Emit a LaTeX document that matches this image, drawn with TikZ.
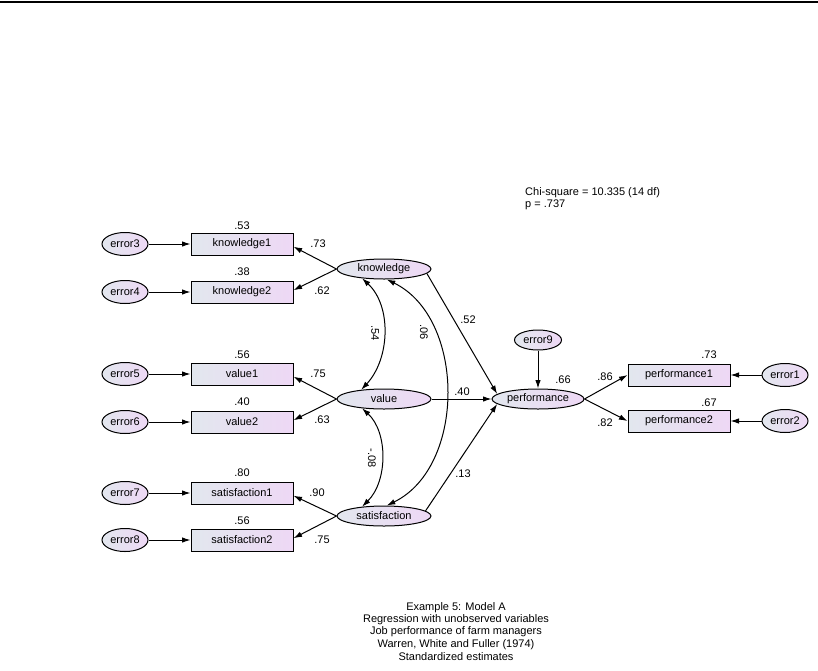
\documentclass[tikz,border=0pt]{standalone}
\usepackage{fontspec}
\setmainfont{Liberation Sans}
\usetikzlibrary{arrows.meta,shapes.geometric}
\definecolor{gl}{RGB}{226,231,238}
\definecolor{gr}{RGB}{238,216,245}
\begin{document}
\begin{tikzpicture}[x=1pt,y=-1pt,
  font=\fontsize{11}{13}\selectfont,
  obs/.style={draw, line width=1pt, left color=gl, right color=gr, minimum width=102pt, minimum height=22pt, inner sep=0pt},
  lat/.style={draw, ellipse, line width=1pt, left color=gl, right color=gr, minimum width=94pt, minimum height=20pt, inner sep=0pt},
  err/.style={draw, ellipse, line width=1pt, left color=gl, right color=gr, minimum width=46pt, minimum height=23pt, inner sep=0pt},
  arr/.style={line width=1pt, -{Latex[length=8.5pt,width=5.5pt]}},
  dbl/.style={line width=1pt, {Latex[length=8.5pt,width=5.5pt]}-{Latex[length=8.5pt,width=5.5pt]}},
  lbl/.style={inner sep=0pt},
  rlbl/.style={inner sep=0pt, rotate=-90}]
\useasboundingbox (0,0) rectangle (818,670);
\draw[line width=1.5pt] (0,2) -- (818,2);

% error terms (left)
\node[err] (e3) at (125,244) {error3};
\node[err] (e4) at (125,292) {error4};
\node[err] (e5) at (125,374) {error5};
\node[err] (e6) at (125,422) {error6};
\node[err] (e7) at (125,493) {error7};
\node[err] (e8) at (125,540) {error8};
% observed (left)
\node[obs] (k1) at (242,244) {knowledge1};
\node[obs] (k2) at (242,292) {knowledge2};
\node[obs] (v1) at (242,374) {value1};
\node[obs] (v2) at (242,422) {value2};
\node[obs] (s1) at (242,493) {satisfaction1};
\node[obs] (s2) at (242,540) {satisfaction2};
% latent
\node[lat] (kn) at (384,269) {knowledge};
\node[lat] (va) at (384,399) {value};
\node[lat] (sa) at (384,516) {satisfaction};
\node[lat, minimum width=92pt] (pf) at (538,399) {performance};
\node[err, minimum width=47pt, minimum height=20pt] (e9) at (538,340) {error9};
% right
\node[obs] (p1) at (679,375) {performance1};
\node[obs] (p2) at (679,421) {performance2};
\node[err] (e1) at (785,375) {error1};
\node[err] (e2) at (785,421) {error2};

% error arrows
\draw[arr] (e3) -- (k1);
\draw[arr] (e4) -- (k2);
\draw[arr] (e5) -- (v1);
\draw[arr] (e6) -- (v2);
\draw[arr] (e7) -- (s1);
\draw[arr] (e8) -- (s2);
\draw[arr] (e1) -- (p1);
\draw[arr] (e2) -- (p2);
\draw[arr] (e9) -- (pf);
% loadings
\draw[arr] (kn.west) -- (k1.-3);
\draw[arr] (kn.west) -- (k2.2);
\draw[arr] (va.west) -- (v1.-3);
\draw[arr] (va.west) -- (v2.2);
\draw[arr] (sa.west) -- (s1.-3);
\draw[arr] (sa.west) -- (s2.2);
\draw[arr] (pf.east) -- (p1.west);
\draw[arr] (pf.east) -- (p2.west);
% regressions
\draw[arr] (kn.-6) -- (pf.173);
\draw[arr] (va.east) -- (pf.west);
\draw[arr] (sa.7) -- (pf.187);
% correlations
\draw[dbl] (kn.203) .. controls (392,306) and (390,359) .. (va.158);
\draw[dbl] (kn.285) .. controls (466,318) and (466,467) .. (sa.75);
\draw[dbl] (va.203) .. controls (388,432) and (388,481) .. (sa.157);

% labels
\node[lbl] at (242,226) {.53};
\node[lbl] at (242,272) {.38};
\node[lbl] at (242,355) {.56};
\node[lbl] at (242,402) {.40};
\node[lbl] at (242,473) {.80};
\node[lbl] at (242,521) {.56};
\node[lbl] at (318,244) {.73};
\node[lbl] at (322,291) {.62};
\node[lbl] at (318,374) {.75};
\node[lbl] at (322,420) {.63};
\node[lbl] at (317,493) {.90};
\node[lbl] at (322,540) {.75};
\node[lbl] at (468,320) {.52};
\node[lbl] at (462,392) {.40};
\node[lbl] at (463,474) {.13};
\node[rlbl] at (375,333) {.54};
\node[rlbl] at (424,332) {.06};
\node[rlbl] at (372,458) {-.08};
\node[lbl] at (563,380) {.66};
\node[lbl] at (605,377) {.86};
\node[lbl] at (605,423) {.82};
\node[lbl] at (709,355) {.73};
\node[lbl] at (709,403) {.67};

\node[lbl, anchor=west] (chi) at (525,193) {Chi-square = 10.335 (14 df)};
\node[lbl, anchor=west] (pv) at (525,205) {p = .737};

\node[lbl] (c1) at (456,608) {Example 5: Model A};
\node[lbl] (c2) at (456,620) {Regression with unobserved variables};
\node[lbl] (c3) at (456,632) {Job performance of farm managers};
\node[lbl] (c4) at (456,644.5) {Warren, White and Fuller (1974)};
\node[lbl] (c5) at (456,657) {Standardized estimates};
\end{tikzpicture}
\end{document}
